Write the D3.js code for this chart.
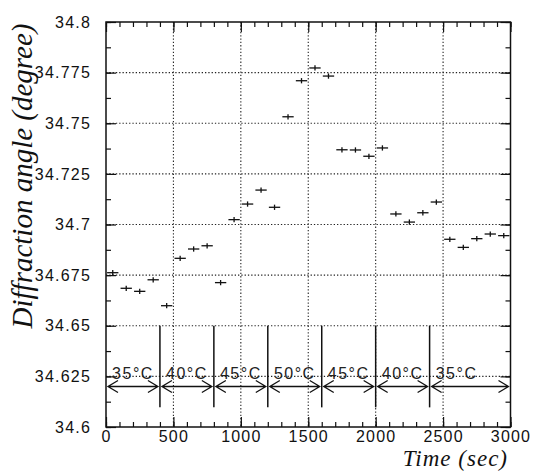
<!DOCTYPE html>
<html>
<head>
<meta charset="utf-8">
<script src="https://cdn.jsdelivr.net/npm/d3@7"></script>
<style>
  body { margin: 0; background: #fff; }
  svg { display: block; }
  .tick text { font-family: "Liberation Sans", Arial, sans-serif; font-size: 16px; fill: #111; letter-spacing: 1.2px; }
  .tick line { stroke: #111; stroke-width: 1.2; }
</style>
</head>
<body>
<div class="bg"></div>
<script>
// measured points: time (sec), diffraction angle (degree)
const times = [50, 150, 250, 350, 450, 550, 650, 750, 850, 950,
  1050, 1150, 1250, 1350, 1450, 1550, 1650, 1750, 1850, 1950,
  2050, 2150, 2250, 2350, 2450, 2550, 2650, 2750, 2850, 2950];
const angles = [34.6762, 34.6685, 34.6670, 34.6727, 34.6599, 34.6833, 34.6879, 34.6895, 34.6713, 34.7024,
  34.7101, 34.7170, 34.7085, 34.7532, 34.7710, 34.7773, 34.7733, 34.7369, 34.7368, 34.7337,
  34.7378, 34.7052, 34.7012, 34.7058, 34.7111, 34.6927, 34.6887, 34.6930, 34.6953, 34.6945];
const timeErr = 42;
const angleErr = 0.0013;

// temperature steps
const tempLabels = ["35°C", "40°C", "45°C", "50°C", "45°C", "40°C", "35°C"];
const tempStart = [0, 400, 800, 1200, 1600, 2000, 2400];
const tempEnd = [400, 800, 1200, 1600, 2000, 2400, 3000];
const tempLabelAt = [200, 600, 1000, 1400, 1800, 2200, 2600];

const xTicks = [0, 500, 1000, 1500, 2000, 2500, 3000];
const xMinor = d3.range(0, 3001, 100);
const yTicks = [34.6, 34.625, 34.65, 34.675, 34.7, 34.725, 34.75, 34.775, 34.8];
const yMinor = d3.range(0, 17).map(i => 34.6 + i * 0.0125);

const W = 534, H = 471;
const plotLeft = 106, plotRight = 510.5, plotTop = 22, plotBottom = 427;

const svg = d3.select(".bg").append("svg")
  .attr("width", W)
  .attr("height", H);

const x = d3.scaleLinear().domain([0, 3000]).range([plotLeft, plotRight]);
const y = d3.scaleLinear().domain([34.6, 34.8]).range([plotBottom, plotTop]);

// dotted grid
svg.append("g").selectAll("line")
  .data(xTicks.slice(1, -1))
  .join("line")
  .attr("x1", d => x(d)).attr("x2", d => x(d))
  .attr("y1", plotTop).attr("y2", plotBottom)
  .attr("stroke", "#222").attr("stroke-width", 1.1).attr("stroke-dasharray", "1.3,2");
svg.append("g").selectAll("line")
  .data(yTicks.slice(1, -1))
  .join("line")
  .attr("x1", plotLeft).attr("x2", plotRight)
  .attr("y1", d => y(d)).attr("y2", d => y(d))
  .attr("stroke", "#222").attr("stroke-width", 1.1).attr("stroke-dasharray", "1.3,2");

// axes (ticks point inside)
function addAxis(axis, tx, ty) {
  const g = svg.append("g")
    .attr("transform", "translate(" + tx + "," + ty + ")")
    .call(axis);
  g.select(".domain").remove();
  return g;
}
addAxis(d3.axisBottom(x).tickValues(xMinor).tickSize(-5).tickFormat(""), 0, plotBottom);
addAxis(d3.axisTop(x).tickValues(xMinor).tickSize(-5).tickFormat(""), 0, plotTop);
addAxis(d3.axisLeft(y).tickValues(yMinor).tickSize(-5).tickFormat(""), plotLeft, 0);
addAxis(d3.axisRight(y).tickValues(yMinor).tickSize(-5).tickFormat(""), plotRight, 0);

addAxis(d3.axisBottom(x).tickValues(xTicks).tickSizeInner(-10).tickSizeOuter(0).tickPadding(4)
  .tickFormat(d3.format("d")), 0, plotBottom);
addAxis(d3.axisTop(x).tickValues(xTicks).tickSizeInner(-10).tickSizeOuter(0).tickFormat(""), 0, plotTop);
addAxis(d3.axisLeft(y).tickValues(yTicks).tickSizeInner(-10).tickSizeOuter(0).tickPadding(15)
  .tickFormat(d => +d.toFixed(3)), plotLeft, 0);
addAxis(d3.axisRight(y).tickValues(yTicks).tickSizeInner(-10).tickSizeOuter(0).tickFormat(""), plotRight, 0);

// frame
svg.append("rect")
  .attr("x", plotLeft).attr("y", plotTop)
  .attr("width", plotRight - plotLeft).attr("height", plotBottom - plotTop)
  .attr("fill", "none").attr("stroke", "#111").attr("stroke-width", 1.5);

// temperature separators, arrows and labels
const steps = tempLabels.map((t, i) => ({ label: t, s: tempStart[i], e: tempEnd[i], at: tempLabelAt[i] }));
const temp = svg.append("g").attr("stroke", "#111").attr("fill", "none");

temp.selectAll(".sep")
  .data(tempStart.slice(1))
  .join("line")
  .attr("class", "sep")
  .attr("x1", d => x(d)).attr("x2", d => x(d))
  .attr("y1", y(34.65)).attr("y2", y(34.6097))
  .attr("stroke-width", 1.5);

const ay = y(34.62);
temp.selectAll(".arr")
  .data(steps)
  .join("path")
  .attr("class", "arr")
  .attr("stroke-width", 1.3)
  .attr("d", d => {
    const a = x(d.s) + 2, b = x(d.e) - 2;
    return "M" + a + "," + ay + "L" + b + "," + ay +
      "M" + (a + 10) + "," + (ay - 6) + "L" + a + "," + ay + "L" + (a + 10) + "," + (ay + 6) +
      "M" + (b - 10) + "," + (ay - 6) + "L" + b + "," + ay + "L" + (b - 10) + "," + (ay + 6);
  });

svg.append("g").selectAll("text")
  .data(steps)
  .join("text")
  .attr("x", d => x(d.at))
  .attr("y", y(34.6237))
  .attr("text-anchor", "middle")
  .attr("font-family", "Liberation Sans, Arial, sans-serif")
  .attr("font-size", 16)
  .attr("letter-spacing", 1.5)
  .attr("fill", "#222")
  .text(d => d.label);

// data with error bars
const pts = times.map((t, i) => ({ t: t, v: angles[i] }));
const marks = svg.append("g").attr("stroke", "#111").attr("stroke-width", 1.3);
marks.selectAll(".h")
  .data(pts)
  .join("line")
  .attr("class", "h")
  .attr("x1", d => x(d.t - timeErr)).attr("x2", d => x(d.t + timeErr))
  .attr("y1", d => y(d.v)).attr("y2", d => y(d.v));
marks.selectAll(".v")
  .data(pts)
  .join("line")
  .attr("class", "v")
  .attr("x1", d => x(d.t)).attr("x2", d => x(d.t))
  .attr("y1", d => y(d.v - angleErr)).attr("y2", d => y(d.v + angleErr));

// axis titles
svg.append("text")
  .attr("transform", "translate(32,176) rotate(-90)")
  .attr("text-anchor", "middle")
  .attr("font-family", "Liberation Serif, Times New Roman, serif")
  .attr("font-style", "italic")
  .attr("font-size", 29)
  .attr("fill", "#111")
  .text("Diffraction angle (degree)");

svg.append("text")
  .attr("x", 508)
  .attr("y", 466)
  .attr("text-anchor", "end")
  .attr("font-family", "Liberation Serif, Times New Roman, serif")
  .attr("font-style", "italic")
  .attr("font-size", 23)
  .attr("letter-spacing", 1)
  .attr("fill", "#111")
  .text("Time (sec)");
</script>
</body>
</html>
